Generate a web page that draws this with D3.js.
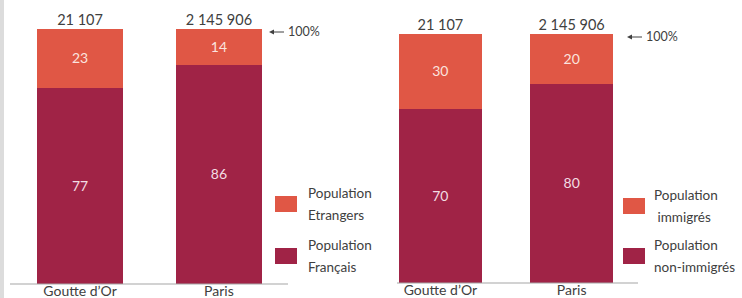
<!DOCTYPE html>
<html>
<head>
<meta charset="utf-8">
<script src="https://cdn.jsdelivr.net/npm/d3@7"></script>
<style>
  html, body { margin: 0; padding: 0; background: #fff; }
  svg { display: block; font-family: Lato, "Open Sans", sans-serif; }
  rect { shape-rendering: crispEdges; }
</style>
</head>
<body>
<div id="chart"></div>
<script>
// chart values
var categories = ["Goutte d\u2019Or", "Paris"];
var totals = ["21 107", "2 145 906"];
var etrangers = [23, 14];
var francais = [77, 86];
var immigres = [30, 20];
var nonImmigres = [70, 80];
var legendLeft = [["Population", "Etrangers"], ["Population", "Fran\u00e7ais"]];
var legendRight = [["Population", " immigr\u00e9s"], ["Population", "non-immigr\u00e9s"]];

var colTop = "#e05745";
var colBottom = "#a02346";
var textCol = "#404040";

var svg = d3.select("#chart").append("svg")
  .attr("width", 742)
  .attr("height", 298);

// light gray strip on the left edge
svg.append("rect")
  .attr("x", 0).attr("y", 0)
  .attr("width", 4).attr("height", 298)
  .attr("fill", "#dcdcdc");

function drawPanel(opt) {
  var g = svg.append("g");

  var x = d3.scaleBand()
    .domain(categories)
    .range(opt.xRange)
    .paddingInner(opt.padInner)
    .paddingOuter(0);

  var y = d3.scaleLinear()
    .domain([0, 100])
    .range(opt.yRange);

  var data = categories.map(function(c, i) {
    return { cat: c, total: totals[i], top: opt.top[i], bottom: opt.bottom[i] };
  });

  // bottom segment
  g.selectAll(".bot")
    .data(data)
    .enter()
    .append("rect")
    .attr("x", d => x(d.cat))
    .attr("y", d => y(d.bottom))
    .attr("width", x.bandwidth())
    .attr("height", d => y(0) - y(d.bottom))
    .attr("fill", colBottom);

  // top segment
  g.selectAll(".top")
    .data(data)
    .enter()
    .append("rect")
    .attr("x", d => x(d.cat))
    .attr("y", d => y(d.bottom + d.top))
    .attr("width", x.bandwidth())
    .attr("height", d => y(d.bottom) - y(d.bottom + d.top))
    .attr("fill", colTop);

  // value labels
  g.selectAll(".vtop")
    .data(data)
    .enter()
    .append("text")
    .attr("x", d => x(d.cat) + x.bandwidth() / 2)
    .attr("y", d => y(d.bottom + d.top / 2))
    .attr("dy", "0.35em")
    .attr("text-anchor", "middle")
    .attr("font-size", "14px")
    .attr("fill", "#fbe3df")
    .text(d => d.top);

  g.selectAll(".vbot")
    .data(data)
    .enter()
    .append("text")
    .attr("x", d => x(d.cat) + x.bandwidth() / 2)
    .attr("y", d => y(d.bottom / 2))
    .attr("dy", "0.35em")
    .attr("text-anchor", "middle")
    .attr("font-size", "14px")
    .attr("fill", "#f3dde3")
    .text(d => d.bottom);

  // totals above bars
  g.selectAll(".tot")
    .data(data)
    .enter()
    .append("text")
    .attr("x", d => x(d.cat) + x.bandwidth() / 2)
    .attr("y", y(100) - 4)
    .attr("text-anchor", "middle")
    .attr("font-size", "14.5px")
    .attr("fill", textCol)
    .text(d => d.total);

  // baseline
  g.append("line")
    .attr("x1", opt.axisX[0]).attr("x2", opt.axisX[1])
    .attr("y1", y(0)).attr("y2", y(0))
    .attr("stroke", "#a6a6a6")
    .attr("stroke-width", 1.2);

  // category labels
  var xAxis = d3.axisBottom(x).tickSize(0).tickPadding(2);
  var ax = g.append("g")
    .attr("transform", `translate(0, ${y(0)})`)
    .call(xAxis);
  ax.select(".domain").remove();
  ax.selectAll("text")
    .attr("font-family", "Lato, 'Open Sans', sans-serif")
    .attr("font-size", "14px")
    .attr("fill", textCol);

  // 100% marker
  var ax0 = x.range()[1] + opt.arrowGap;
  var ay = y(100) + 3;
  g.append("line")
    .attr("x1", ax0 + 4).attr("x2", ax0 + 15)
    .attr("y1", ay).attr("y2", ay)
    .attr("stroke", textCol)
    .attr("stroke-width", 1);
  g.append("path")
    .attr("d", `M${ax0},${ay} l5,-2.5 l0,5 z`)
    .attr("fill", textCol);
  g.append("text")
    .attr("x", ax0 + 19)
    .attr("y", ay)
    .attr("dy", "0.35em")
    .attr("font-size", "12.5px")
    .attr("fill", textCol)
    .text("100%");

  // legend
  var leg = g.selectAll(".leg")
    .data([{ c: colTop, t: opt.legend[0] }, { c: colBottom, t: opt.legend[1] }])
    .enter()
    .append("g")
    .attr("transform", (d, i) => `translate(${opt.legX}, ${opt.legY[i]})`);

  leg.append("rect")
    .attr("x", 0).attr("y", 0)
    .attr("width", 22).attr("height", 16)
    .attr("fill", d => d.c);

  leg.append("text")
    .attr("x", opt.legTextX)
    .attr("y", -3)
    .attr("font-size", "13.5px")
    .attr("fill", textCol)
    .selectAll("tspan")
    .data(d => d.t)
    .enter()
    .append("tspan")
    .attr("x", opt.legTextX)
    .attr("dy", (d, i) => i === 0 ? "0.35em" : "22px")
    .attr("xml:space", "preserve")
    .text(d => d);
}

drawPanel({
  xRange: [37, 262],
  padInner: 0.38,
  yRange: [284, 29],
  top: etrangers,
  bottom: francais,
  axisX: [10, 288],
  arrowGap: 7,
  legend: legendLeft,
  legX: 275,
  legY: [196, 248],
  legTextX: 33
});

drawPanel({
  xRange: [399, 613],
  padInner: 0.37,
  yRange: [283, 34],
  top: immigres,
  bottom: nonImmigres,
  axisX: [397, 638],
  arrowGap: 14,
  legend: legendRight,
  legX: 623,
  legY: [198, 248],
  legTextX: 31
});
</script>
</body>
</html>
